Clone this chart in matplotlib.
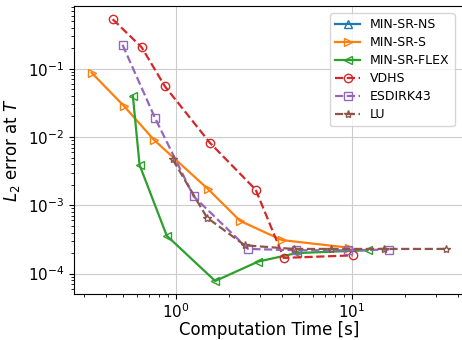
import matplotlib.pyplot as plt

# computation time [s] and L2 error at T
ns_time = []
ns_err = []

s_time = [0.331, 0.505, 0.748, 1.52, 2.32, 4.0, 9.6]
s_err = [0.087, 0.0285, 0.0091, 1.73e-3, 5.9e-4, 3.1e-4, 2.4e-4]

flex_time = [0.568, 0.62, 0.885, 1.67, 2.93, 4.85, 12.3]
flex_err = [0.040, 3.9e-3, 3.6e-4, 7.8e-5, 1.5e-4, 2.0e-4, 2.2e-4]

vdhs_time = [0.436, 0.637, 0.865, 1.56, 2.84, 4.1, 10.1]
vdhs_err = [0.53, 0.206, 0.055, 8.2e-3, 1.69e-3, 1.7e-4, 1.85e-4]

esdirk_time = [0.496, 0.759, 1.26, 2.57, 4.79, 9.49, 16.3]
esdirk_err = [0.224, 0.019, 1.35e-3, 2.3e-4, 2.2e-4, 2.2e-4, 2.25e-4]

lu_time = [0.957, 1.50, 2.46, 4.66, 7.6, 15.2, 34.4]
lu_err = [4.7e-3, 6.6e-4, 2.6e-4, 2.3e-4, 2.3e-4, 2.3e-4, 2.3e-4]

fig = plt.figure(figsize=(4.62, 3.4), dpi=100)
ax = fig.add_axes([0.160, 0.135, 0.844, 0.847])

kw = dict(markerfacecolor='none', markersize=6, linewidth=1.6)
ax.plot(ns_time, ns_err, '-', marker='^', color='C0', label='MIN-SR-NS', **kw)
ax.plot(s_time, s_err, '-', marker='>', color='C1', label='MIN-SR-S', **kw)
ax.plot(flex_time, flex_err, '-', marker='<', color='C2', label='MIN-SR-FLEX', **kw)
ax.plot(vdhs_time, vdhs_err, '--', marker='o', color='C3', label='VDHS', **kw)
ax.plot(esdirk_time, esdirk_err, '--', marker='s', color='C4', label='ESDIRK43', **kw)
ax.plot(lu_time, lu_err, '--', marker='*', color='C5', label='LU', **kw)

ax.set_xscale('log')
ax.set_yscale('log')
ax.grid(True, which='major', color='#cccccc')
ax.set_xlabel('Computation Time [s]', fontsize=12, labelpad=0)
ax.set_ylabel('$L_2$ error at $T$', fontsize=12)
ax.tick_params(labelsize=11)
ax.tick_params(axis='x', pad=2.5)
ax.legend(loc='upper right', fontsize=9, labelspacing=0.4,
          bbox_to_anchor=(0.993, 0.997))

fig.savefig('out.png', dpi=100)
